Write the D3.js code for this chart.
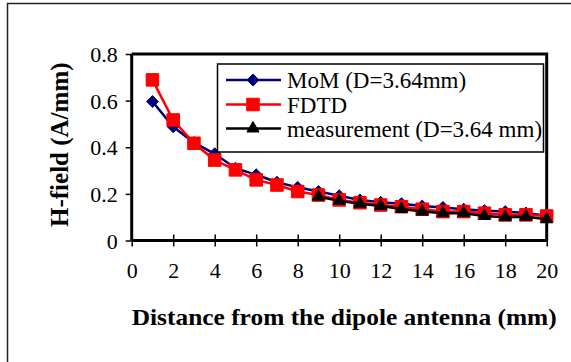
<!DOCTYPE html>
<html>
<head>
<meta charset="utf-8">
<script src="https://cdn.jsdelivr.net/npm/d3@7"></script>
<style>
  body { margin: 0; background: #fff; }
  text { font-family: "Liberation Serif", "Times New Roman", serif; fill: #000; }
</style>
</head>
<body>
<div id="chart"></div>
<script>
// values
var distance = [1, 2, 3, 4, 5, 6, 7, 8, 9, 10, 11, 12, 13, 14, 15, 16, 17, 18, 19, 20];
var mom = [0.596, 0.488, 0.42, 0.372, 0.31, 0.282, 0.25, 0.228, 0.21, 0.192, 0.174, 0.164, 0.158, 0.148, 0.142, 0.134, 0.128, 0.124, 0.118, 0.106];
var fdtd = [0.689, 0.517, 0.417, 0.345, 0.303, 0.26, 0.238, 0.21, 0.195, 0.174, 0.162, 0.152, 0.145, 0.134, 0.124, 0.124, 0.117, 0.11, 0.11, 0.105];
var measDistance = [9, 10, 11, 12, 13, 14, 15, 16, 17, 18, 19, 20];
var measurement = [0.188, 0.17, 0.158, 0.148, 0.135, 0.124, 0.117, 0.117, 0.105, 0.1, 0.102, 0.091];
var xTicks = [0, 2, 4, 6, 8, 10, 12, 14, 16, 18, 20];
var yTicks = [0, 0.2, 0.4, 0.6, 0.8];
var legendLabels = ["MoM (D=3.64mm)", "FDTD", "measurement (D=3.64 mm)"];

var W = 571, H = 362;
var svg = d3.select("#chart").append("svg").attr("width", W).attr("height", H);

// outer frame (only top and left visible)
svg.append("path")
  .attr("d", "M7.5," + H + "V3.5H" + W)
  .attr("fill", "none").attr("stroke", "#222").attr("stroke-width", 1.5);

var x = d3.scaleLinear().domain([0, 20]).range([131.7, 546.7]);
var y = d3.scaleLinear().domain([0, 0.8]).range([240.5, 54]);

// plot frame top/right
svg.append("path")
  .attr("d", "M" + x(0) + "," + y(0.8) + "H" + x(20) + "V" + y(0))
  .attr("fill", "none").attr("stroke", "#000").attr("stroke-width", 3);

var xAxis = svg.append("g")
  .attr("transform", "translate(0," + y(0) + ")")
  .call(d3.axisBottom(x).tickValues(xTicks).tickSize(6).tickFormat(d3.format("d")));
xAxis.select(".domain").attr("d", "M" + x(0) + ",0H" + x(20)).attr("stroke-width", 3);
xAxis.selectAll(".tick line").attr("y1", -6).attr("y2", 6).attr("stroke-width", 1.5);
xAxis.selectAll(".tick text").attr("y", 37).attr("dy", 0).style("font-size", "22px").style("font-family", "Liberation Serif");

var yAxis = svg.append("g")
  .attr("transform", "translate(" + x(0) + ",0)")
  .call(d3.axisLeft(y).tickValues(yTicks).tickSize(6).tickFormat(function(d) { return d === 0 ? "0" : d3.format(".1f")(d); }));
yAxis.select(".domain").attr("d", "M0," + y(0.8) + "V" + y(0)).attr("stroke-width", 3);
yAxis.selectAll(".tick line").attr("stroke-width", 1.5);
yAxis.selectAll(".tick text").attr("x", -14).attr("dy", "0.35em").style("font-size", "22px").style("font-family", "Liberation Serif");

// axis titles
svg.append("text")
  .attr("x", x(0)).attr("y", 325)
  .attr("textLength", 425).attr("lengthAdjust", "spacingAndGlyphs")
  .style("font-size", "23px").style("font-weight", "bold")
  .text("Distance from the dipole antenna (mm)");

svg.append("text")
  .attr("transform", "translate(68,227) rotate(-90)")
  .style("font-size", "25px").style("font-weight", "bold")
  .text("H-field (A/mm)");

var line = d3.line().x(function(d) { return x(d[0]); }).y(function(d) { return y(d[1]); });

var series = [
  { pts: d3.zip(distance, mom), color: "#000080", sym: d3.symbolDiamond2, size: 90 },
  { pts: d3.zip(distance, fdtd), color: "#ff0000", sym: d3.symbolSquare2, size: 200 },
  { pts: d3.zip(measDistance, measurement), color: "#000", sym: d3.symbolTriangle2, size: 105 }
];

function marker(g, s) {
  return g.append("path")
    .attr("d", d3.symbol().type(s.sym).size(s.size)())
    .attr("fill", s.color).attr("stroke", s.color).attr("stroke-width", 1);
}

series.forEach(function(s) {
  svg.append("path").datum(s.pts).attr("d", line)
    .attr("fill", "none").attr("stroke", s.color).attr("stroke-width", 2.5);
  s.pts.forEach(function(p) {
    marker(svg.append("g").attr("transform", "translate(" + x(p[0]) + "," + y(p[1]) + ")"), s);
  });
});

// legend
var lg = svg.append("g");
lg.append("rect").attr("x", 217.5).attr("y", 64).attr("width", 326).attr("height", 88)
  .attr("fill", "#fff").attr("stroke", "#000").attr("stroke-width", 1.5);
var rowsY = [80, 104.5, 128.5];
series.forEach(function(s, i) {
  lg.append("line").attr("x1", 226).attr("x2", 281).attr("y1", rowsY[i]).attr("y2", rowsY[i])
    .attr("stroke", s.color).attr("stroke-width", 2.5);
  marker(lg.append("g").attr("transform", "translate(253," + rowsY[i] + ")"), s);
  lg.append("text").attr("x", 287).attr("y", rowsY[i]).attr("dy", "0.35em")
    .style("font-size", "23px").text(legendLabels[i]);
});
</script>
</body>
</html>
